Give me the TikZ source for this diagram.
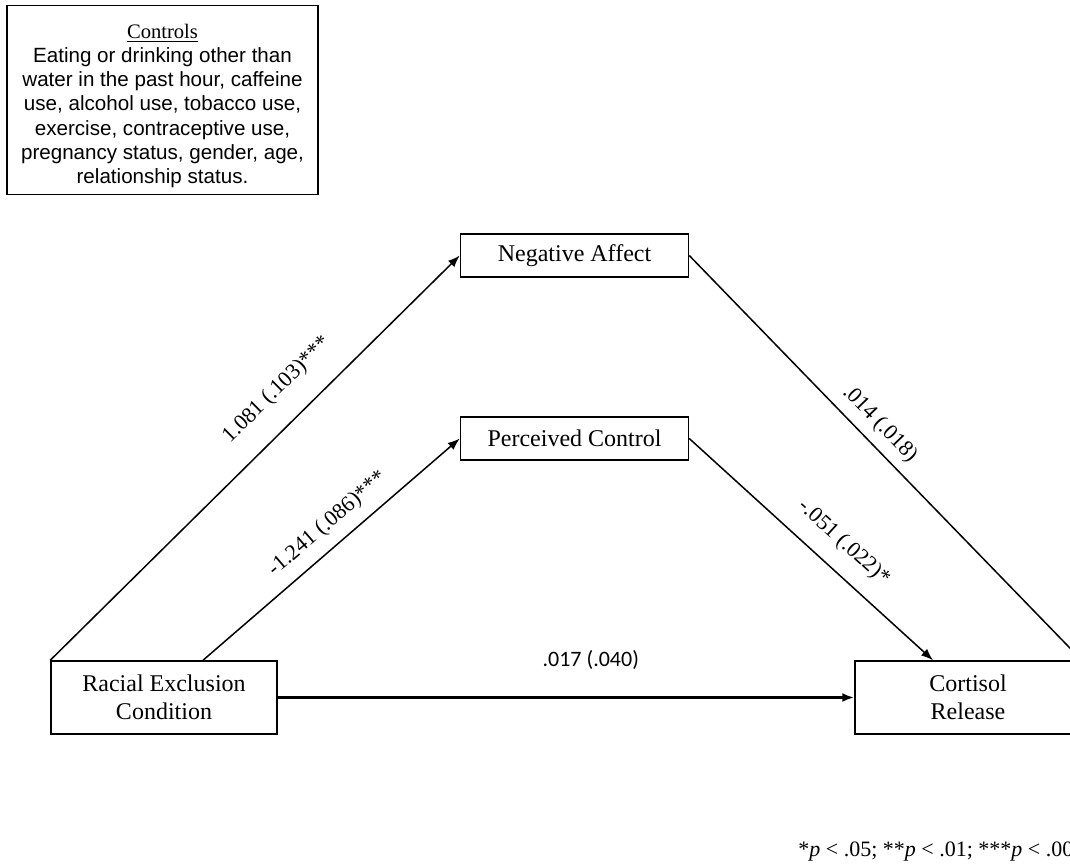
\documentclass[tikz,border=0pt]{standalone}
\usepackage{fontspec}
\setmainfont{Liberation Serif}
\newfontfamily\arialfont{Liberation Sans}
\newfontfamily\calibrifont{Carlito}
\usetikzlibrary{arrows.meta}

\begin{document}
\begin{tikzpicture}[x=0.5pt,y=-0.5pt,
    box/.style={draw,line width=0.75pt,minimum width=113pt,minimum height=36.5pt,
      align=center,inner sep=0pt,font=\fontsize{12}{13.8}\selectfont},
    arr/.style={draw,line width=0.75pt,-{Latex[length=6pt,width=4.5pt]}},
    coef/.style={font=\fontsize{11}{13}\selectfont,sloped,inner sep=1pt}]
  \useasboundingbox (0,0) rectangle (1070,867);
  \node[draw,line width=0.75pt,minimum width=155.5pt,minimum height=93pt,align=center,
    font=\arialfont\fontsize{10.3}{12.1}\selectfont] (ctrl) at (162.5,100)
    {{\rmfamily\underline{Controls}}\rule{0pt}{13pt}\\Eating or drinking other than\\water in the past hour, caffeine\\
     use, alcohol use, tobacco use,\\exercise, contraceptive use,\\pregnancy status, gender, age,\\relationship status.};
  \node[box] (rec) at (164,697.5) {Racial Exclusion\\Condition};
  \node[box] (cort) at (968,697.5) {Cortisol\\Release};
  \node[box,minimum width=114pt,minimum height=21.5pt] (neg) at (574.5,255.5) {Negative Affect};
  \node[box,minimum width=114pt,minimum height=21.5pt] (pc) at (574.5,438.5) {Perceived Control};
  % paths
  \draw[arr] (rec.north west) -- node[coef,pos=0.61,above=10pt] {1.081 (.103)***} (neg.west);
  \draw[arr] ([xshift=19.5pt]rec.north) -- node[coef,pos=0.54,above=4.5pt] {-1.241 (.086)***} (pc.west);
  \draw[arr,line width=1.4pt] (rec.east) -- node[pos=0.543,above=10pt,
    font=\calibrifont\fontsize{11}{13}\selectfont] {.017 (.040)} (cort.west);
  \draw[arr] (neg.east) -- node[coef,pos=0.45,above=3.3pt] {.014 (.018)} (cort.north east);
  \draw[arr] (pc.east) -- node[coef,pos=0.56,above=7pt] {-.051 (.022)*} ([xshift=-17.5pt]cort.north);
  \node[anchor=base west,inner sep=0pt,font=\fontsize{11}{13}\selectfont] (note) at (798,856)
    {*\textit{p} < .05; **\textit{p} < .01; ***\textit{p} < .001};
\end{tikzpicture}
\end{document}
